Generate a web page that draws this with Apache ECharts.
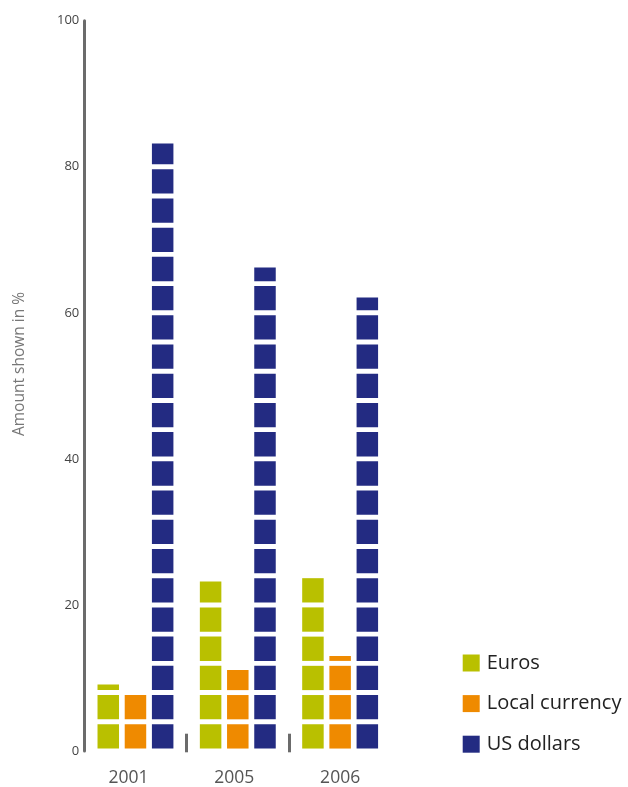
<!DOCTYPE html>
<html>
<head>
<meta charset="utf-8">
<script src="https://cdn.jsdelivr.net/npm/echarts@6/dist/echarts.min.js"></script>
<style>
  html, body { margin: 0; padding: 0; background: #ffffff; }
  #chart { width: 628px; height: 787px; }
</style>
</head>
<body>
<div id="chart"></div>
<script>
// Share of amounts by currency, in percent
const years = ['2001', '2005', '2006'];
const euros = [9.1, 23.2, 23.7];
const localCurrency = [8, 11.1, 13.0];
const usDollars = [83.2, 66.2, 62.1];
const yTicks = [0, 20, 40, 60, 80, 100];

const colors = {
  euros: '#b9c000',
  local: '#ef8a00',
  usd: '#232b82'
};

const chart = echarts.init(document.getElementById('chart'), null, { renderer: 'canvas' });

const FONT = '"Open Sans", "Noto Sans", sans-serif';
const AXIS_GRAY = '#6b6b6b';

// Year labels sit slightly left of their group centres
const yearLabelStyle = {
  fontFamily: FONT,
  fontSize: 17.5,
  color: '#555555',
  lineHeight: 18
};
const yearLabelRich = {
  y0: Object.assign({ padding: [0, 14, 0, 0] }, yearLabelStyle),
  y1: Object.assign({ padding: [0, 7, 0, 0] }, yearLabelStyle),
  y2: Object.assign({ padding: [0, 0, 0, 0] }, yearLabelStyle)
};

// Block-style bars: each block spans 4 percentage points, clipped at the value
function blockSeries(name, data, color) {
  return {
    name: name,
    type: 'pictorialBar',
    xAxisIndex: 0,
    yAxisIndex: 0,
    data: data,
    barWidth: 21.5,
    barGap: '26.5%',
    symbol: 'rect',
    symbolRepeat: true,
    symbolClip: true,
    symbolBoundingData: yTicks[yTicks.length - 1],
    symbolSize: ['100%', 24.3],
    symbolMargin: '2.6!',
    symbolPosition: 'start',
    itemStyle: { color: color },
    emphasis: { disabled: true },
    z: 3
  };
}

const option = {
  animation: false,
  backgroundColor: '#ffffff',
  textStyle: { fontFamily: FONT },
  grid: [
    { left: 84.3, width: 307, top: 20.7, height: 731.6, containLabel: false },
    { left: 84.3, width: 307, top: 733.7, height: 18.6, containLabel: false }
  ],
  xAxis: [
    {
      type: 'category',
      gridIndex: 0,
      data: years,
      axisLine: { show: false },
      axisTick: { show: false },
      axisLabel: {
        margin: 18,
        formatter: function (value, index) {
          return '{y' + index + '|' + value + '}';
        },
        rich: yearLabelRich
      },
      splitLine: { show: false }
    },
    {
      // short separators between the year groups
      type: 'category',
      gridIndex: 1,
      data: years,
      axisLine: { show: false },
      axisTick: { show: false },
      axisLabel: { show: false },
      splitLine: {
        show: true,
        showMinLine: false,
        showMaxLine: false,
        lineStyle: { color: AXIS_GRAY, width: 3 }
      }
    }
  ],
  yAxis: [
    {
      type: 'value',
      gridIndex: 0,
      min: yTicks[0],
      max: yTicks[yTicks.length - 1],
      interval: 20,
      axisLine: { show: true, lineStyle: { color: AXIS_GRAY, width: 3 } },
      axisTick: { show: false },
      splitLine: { show: false },
      axisLabel: {
        color: '#444444',
        fontFamily: FONT,
        fontSize: 13,
        margin: 5
      }
    },
    {
      type: 'value',
      gridIndex: 1,
      show: false,
      min: 0,
      max: 1
    }
  ],
  legend: {
    orient: 'vertical',
    left: 457.7,
    top: 648,
    icon: 'rect',
    itemWidth: 17,
    itemHeight: 17,
    itemGap: 20.6,
    selectedMode: false,
    textStyle: {
      color: '#222222',
      fontFamily: FONT,
      fontSize: 20,
      lineHeight: 17,
      padding: [0, 0, 0, 2]
    },
    data: ['Euros', 'Local currency', 'US dollars']
  },
  graphic: [
    {
      type: 'text',
      x: 19.5,
      y: 364,
      rotation: Math.PI / 2,
      style: {
        text: 'Amount shown in %',
        fill: '#777777',
        font: '15.5px "Open Sans", "Noto Sans", sans-serif',
        textAlign: 'center',
        textVerticalAlign: 'middle'
      }
    }
  ],
  series: [
    blockSeries('Euros', euros, colors.euros),
    blockSeries('Local currency', localCurrency, colors.local),
    blockSeries('US dollars', usDollars, colors.usd)
  ]
};

chart.setOption(option);
</script>
</body>
</html>
